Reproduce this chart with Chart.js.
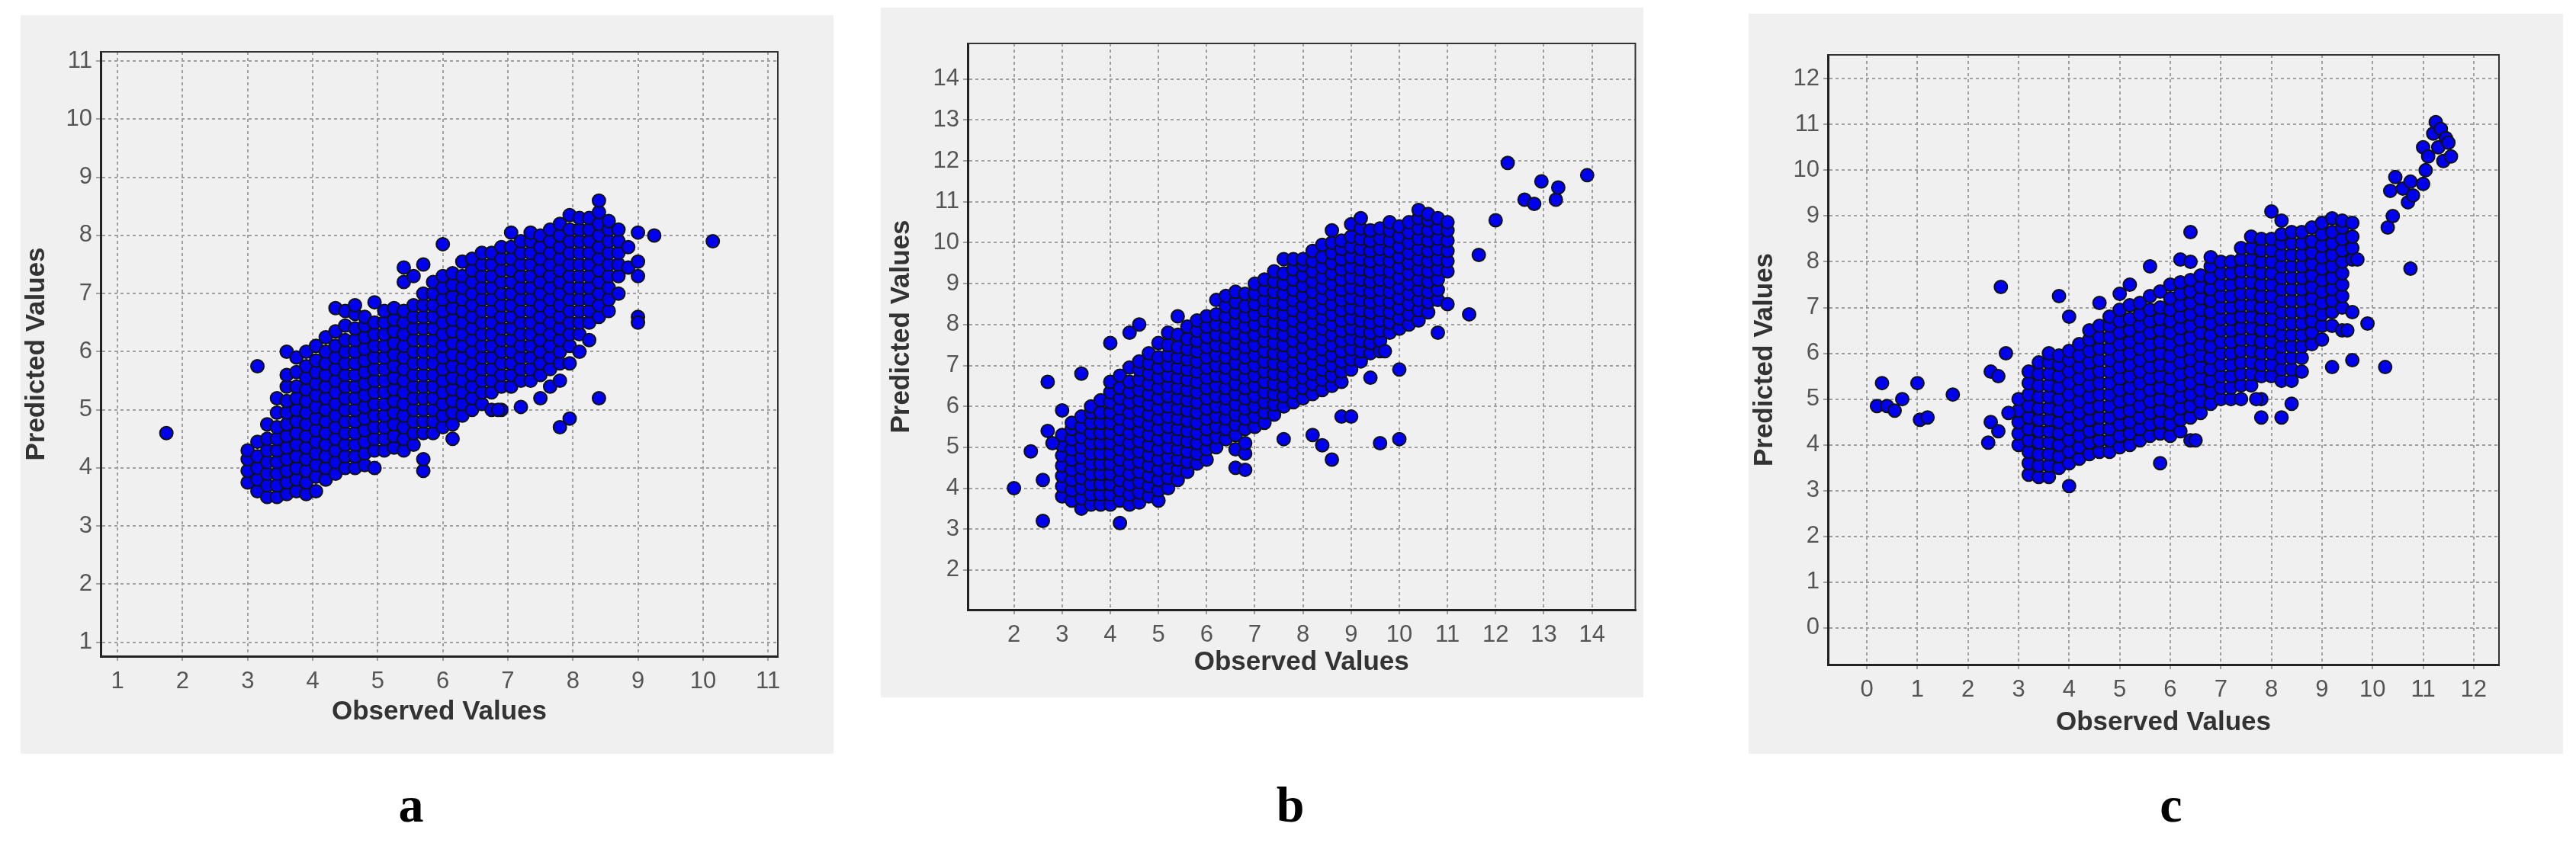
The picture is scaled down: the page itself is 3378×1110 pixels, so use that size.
<!DOCTYPE html>
<html lang="en">
<head>
<meta charset="UTF-8">
<title>Observed vs Predicted</title>
<style>
    body { margin: 0; background: #fff; width: 3378px; height: 1110px; position: relative; overflow: hidden; }
    .panel { position: absolute; background: #f0f0f0; }
    .letter { position: absolute; font-family: "Liberation Serif", "DejaVu Serif", serif; font-weight: bold; font-size: 66px; transform: translateX(-50%); color: #000; }
</style>
</head>
<body>
<div class="panel" id="pa" style="left:27px;top:20px;width:1066px;height:969px"><canvas id="ca"></canvas></div>
<div class="panel" id="pb" style="left:1155px;top:10px;width:1000px;height:905px"><canvas id="cb"></canvas></div>
<div class="panel" id="pc" style="left:2293px;top:18px;width:1068px;height:971px"><canvas id="cc"></canvas></div>
<div class="letter" style="left:539px;top:1018px">a</div>
<div class="letter" style="left:1692px;top:1018px">b</div>
<div class="letter" style="left:2847px;top:1018px">c</div>

<script src="https://cdn.jsdelivr.net/npm/chart.js"></script>
<script>
// tick labels
const ticksAX = [1, 2, 3, 4, 5, 6, 7, 8, 9, 10, 11];
const ticksAY = [1, 2, 3, 4, 5, 6, 7, 8, 9, 10, 11];
const ticksBX = [2, 3, 4, 5, 6, 7, 8, 9, 10, 11, 12, 13, 14];
const ticksBY = [2, 3, 4, 5, 6, 7, 8, 9, 10, 11, 12, 13, 14];
const ticksCX = [0, 1, 2, 3, 4, 5, 6, 7, 8, 9, 10, 11, 12];
const ticksCY = [0, 1, 2, 3, 4, 5, 6, 7, 8, 9, 10, 11, 12];

// panel a: observed value columns and the predicted values read in each column
const obsA = [3.0, 3.15, 3.3, 3.45, 3.6, 3.75, 3.9, 4.05, 4.2, 4.35, 4.5, 4.65, 4.8, 4.95, 5.1, 5.25, 5.4, 5.55, 5.7, 5.85,
    6.0, 6.15, 6.3, 6.45, 6.6, 6.75, 6.9, 7.05, 7.2, 7.35, 7.5, 7.65, 7.8, 7.95, 8.1, 8.25, 8.4, 8.55, 8.7, 8.85];
const predA = [
    "3.75 3.95 4.15 4.3",
    "3.6 3.8 4.0 4.2 4.45 5.75",
    "3.5 3.7 3.9 4.1 4.3 4.5 4.75",
    "3.5 3.7 3.9 4.1 4.3 4.5 4.7 4.95 5.2",
    "3.55 3.75 3.95 4.15 4.35 4.55 4.75 4.95 5.15 5.4 5.6 6.0",
    "3.6 3.8 4.0 4.2 4.4 4.6 4.8 5.0 5.2 5.4 5.65 5.9",
    "3.55 3.75 3.95 4.15 4.35 4.55 4.75 4.95 5.15 5.35 5.55 5.75 6.0",
    "3.6 3.85 4.05 4.25 4.45 4.65 4.85 5.05 5.25 5.45 5.65 5.85 6.1",
    "3.8 4.0 4.2 4.4 4.6 4.8 5.0 5.2 5.4 5.6 5.8 6.0 6.25",
    "3.9 4.1 4.3 4.5 4.7 4.9 5.1 5.3 5.5 5.7 5.9 6.1 6.35 6.75",
    "4.0 4.2 4.4 4.6 4.8 5.0 5.2 5.4 5.6 5.8 6.0 6.2 6.45 6.7",
    "4.0 4.2 4.4 4.6 4.8 5.0 5.2 5.4 5.6 5.8 6.0 6.2 6.4 6.65 6.8",
    "4.05 4.25 4.45 4.65 4.85 5.05 5.25 5.45 5.65 5.85 6.05 6.25 6.45 6.6",
    "4.0 4.3 4.5 4.7 4.9 5.1 5.3 5.5 5.7 5.9 6.1 6.3 6.5 6.85",
    "4.3 4.5 4.7 4.9 5.1 5.3 5.5 5.7 5.9 6.1 6.3 6.5 6.7",
    "4.35 4.55 4.75 4.95 5.15 5.35 5.55 5.75 5.95 6.15 6.35 6.55 6.75",
    "4.3 4.5 4.7 4.9 5.1 5.3 5.5 5.7 5.9 6.1 6.3 6.5 6.7 7.2 7.45",
    "4.4 4.6 4.8 5.0 5.2 5.4 5.6 5.8 6.0 6.2 6.4 6.6 6.8 7.3",
    "3.95 4.15 4.6 4.8 5.0 5.2 5.4 5.6 5.8 6.0 6.2 6.4 6.6 6.8 7.0 7.5",
    "4.6 4.8 5.0 5.2 5.4 5.6 5.8 6.0 6.2 6.4 6.6 6.8 7.0 7.2",
    "4.7 4.9 5.1 5.3 5.5 5.7 5.9 6.1 6.3 6.5 6.7 6.9 7.1 7.3 7.85",
    "4.5 4.75 4.95 5.15 5.35 5.55 5.75 5.95 6.15 6.35 6.55 6.75 6.95 7.15 7.35",
    "4.9 5.1 5.3 5.5 5.7 5.9 6.1 6.3 6.5 6.7 6.9 7.1 7.3 7.55",
    "5.0 5.2 5.4 5.6 5.8 6.0 6.2 6.4 6.6 6.8 7.0 7.2 7.4 7.6",
    "5.1 5.3 5.5 5.7 5.9 6.1 6.3 6.5 6.7 6.9 7.1 7.3 7.5 7.7",
    "5.0 5.3 5.5 5.7 5.9 6.1 6.3 6.5 6.7 6.9 7.1 7.3 7.5 7.7",
    "5.0 5.4 5.6 5.8 6.0 6.2 6.4 6.6 6.8 7.0 7.2 7.4 7.6 7.8",
    "5.4 5.6 5.8 6.0 6.2 6.4 6.6 6.8 7.0 7.2 7.4 7.6 7.8 8.05",
    "5.05 5.5 5.7 5.9 6.1 6.3 6.5 6.7 6.9 7.1 7.3 7.5 7.7 7.9",
    "5.5 5.7 5.9 6.1 6.3 6.5 6.7 6.9 7.1 7.3 7.5 7.7 7.9 8.05",
    "5.2 5.6 5.8 6.0 6.2 6.4 6.6 6.8 7.0 7.2 7.4 7.6 7.8 8.0",
    "5.4 5.7 5.9 6.1 6.3 6.5 6.7 6.9 7.1 7.3 7.5 7.7 7.9 8.1",
    "4.7 5.5 5.8 6.0 6.2 6.4 6.6 6.8 7.0 7.2 7.4 7.6 7.8 8.0 8.2",
    "4.85 5.8 6.1 6.3 6.5 6.7 6.9 7.1 7.3 7.5 7.7 7.9 8.1 8.35",
    "6.0 6.3 6.5 6.7 6.9 7.1 7.3 7.5 7.7 7.9 8.1 8.3",
    "6.2 6.5 6.7 6.9 7.1 7.3 7.5 7.7 7.9 8.1 8.3",
    "5.2 6.6 6.8 7.0 7.2 7.4 7.6 7.8 8.0 8.2 8.4 8.6",
    "6.7 6.9 7.1 7.3 7.5 7.7 7.9 8.1 8.25",
    "7.0 7.3 7.5 7.7 7.9 8.1",
    "7.45 7.8"
];
const outObsA = [1.75, 9.0, 9.25, 9.0, 9.0, 9.0, 9.0, 10.15, 6.85];
const outPredA = [4.6, 8.05, 8.0, 7.55, 7.3, 6.6, 6.5, 7.9, 5.0];

// panel b
const obsB = [3.0, 3.2, 3.4, 3.6, 3.8, 4.0, 4.2, 4.4, 4.6, 4.8, 5.0, 5.2, 5.4, 5.6, 5.8, 6.0, 6.2, 6.4, 6.6, 6.8,
    7.0, 7.2, 7.4, 7.6, 7.8, 8.0, 8.2, 8.4, 8.6, 8.8, 9.0, 9.2, 9.4, 9.6, 9.8, 10.0, 10.2, 10.4, 10.6, 10.8, 11.0];
const predB = [
    "3.8 4.05 4.3 4.55 4.8 5.05 5.3 5.9",
    "3.7 3.95 4.2 4.45 4.7 4.95 5.2 5.45 5.6",
    "3.5 3.75 4.0 4.25 4.5 4.75 5.0 5.25 5.5 5.75 6.8",
    "3.6 3.85 4.1 4.35 4.6 4.85 5.1 5.35 5.6 5.85 6.0",
    "3.6 3.85 4.1 4.35 4.6 4.85 5.1 5.35 5.6 5.85 6.15",
    "3.6 3.85 4.1 4.35 4.6 4.85 5.1 5.35 5.6 5.85 6.1 6.35 6.6 7.55",
    "3.7 3.95 4.2 4.45 4.7 4.95 5.2 5.45 5.7 5.95 6.2 6.45 6.75",
    "3.6 3.85 4.1 4.35 4.6 4.85 5.1 5.35 5.6 5.85 6.1 6.35 6.6 6.95 7.8",
    "3.65 3.9 4.15 4.4 4.65 4.9 5.15 5.4 5.65 5.9 6.15 6.4 6.65 6.9 7.1 8.0",
    "3.8 4.05 4.3 4.55 4.8 5.05 5.3 5.55 5.8 6.05 6.3 6.55 6.8 7.05 7.3",
    "3.7 3.95 4.2 4.45 4.7 4.95 5.2 5.45 5.7 5.95 6.2 6.45 6.7 6.95 7.2 7.55",
    "4.0 4.25 4.5 4.75 5.0 5.25 5.5 5.75 6.0 6.25 6.5 6.75 7.0 7.25 7.5 7.8",
    "4.2 4.45 4.7 4.95 5.2 5.45 5.7 5.95 6.2 6.45 6.7 6.95 7.2 7.45 7.75 8.2",
    "4.4 4.65 4.9 5.15 5.4 5.65 5.9 6.15 6.4 6.65 6.9 7.15 7.4 7.65 7.95",
    "4.6 4.85 5.1 5.35 5.6 5.85 6.1 6.35 6.6 6.85 7.1 7.35 7.6 7.85 8.1",
    "4.7 4.95 5.2 5.45 5.7 5.95 6.2 6.45 6.7 6.95 7.2 7.45 7.7 7.95 8.2",
    "5.0 5.25 5.5 5.75 6.0 6.25 6.5 6.75 7.0 7.25 7.5 7.75 8.0 8.25 8.6",
    "5.2 5.45 5.7 5.95 6.2 6.45 6.7 6.95 7.2 7.45 7.7 7.95 8.2 8.45 8.7",
    "4.5 4.95 5.3 5.55 5.8 6.05 6.3 6.55 6.8 7.05 7.3 7.55 7.8 8.05 8.3 8.55 8.8",
    "4.45 4.85 5.1 5.45 5.7 5.95 6.2 6.45 6.7 6.95 7.2 7.45 7.7 7.95 8.2 8.45 8.75",
    "5.5 5.75 6.0 6.25 6.5 6.75 7.0 7.25 7.5 7.75 8.0 8.25 8.5 8.75 9.0",
    "5.6 5.85 6.1 6.35 6.6 6.85 7.1 7.35 7.6 7.85 8.1 8.35 8.6 8.85 9.1",
    "5.8 6.05 6.3 6.55 6.8 7.05 7.3 7.55 7.8 8.05 8.3 8.55 8.8 9.05 9.3",
    "5.2 6.0 6.25 6.5 6.75 7.0 7.25 7.5 7.75 8.0 8.25 8.5 8.75 9.0 9.25 9.6",
    "6.1 6.35 6.6 6.85 7.1 7.35 7.6 7.85 8.1 8.35 8.6 8.85 9.1 9.35 9.6",
    "6.2 6.45 6.7 6.95 7.2 7.45 7.7 7.95 8.2 8.45 8.7 8.95 9.2 9.45 9.6",
    "5.3 6.3 6.55 6.8 7.05 7.3 7.55 7.8 8.05 8.3 8.55 8.8 9.05 9.3 9.55 9.8",
    "5.05 6.4 6.65 6.9 7.15 7.4 7.65 7.9 8.15 8.4 8.65 8.9 9.15 9.4 9.65 9.95",
    "4.7 6.5 6.75 7.0 7.25 7.5 7.75 8.0 8.25 8.5 8.75 9.0 9.25 9.5 9.75 10.0 10.3",
    "5.75 6.6 6.85 7.1 7.35 7.6 7.85 8.1 8.35 8.6 8.85 9.1 9.35 9.6 9.85 10.05",
    "5.75 6.9 7.15 7.4 7.65 7.9 8.15 8.4 8.65 8.9 9.15 9.4 9.65 9.9 10.15 10.45",
    "7.1 7.35 7.6 7.85 8.1 8.35 8.6 8.85 9.1 9.35 9.6 9.85 10.1 10.35 10.6",
    "6.7 7.3 7.55 7.8 8.05 8.3 8.55 8.8 9.05 9.3 9.55 9.8 10.05 10.3",
    "5.1 7.35 7.6 7.85 8.1 8.35 8.6 8.85 9.1 9.35 9.6 9.85 10.1 10.35",
    "7.8 8.05 8.3 8.55 8.8 9.05 9.3 9.55 9.8 10.05 10.3 10.5",
    "5.2 6.9 7.9 8.15 8.4 8.65 8.9 9.15 9.4 9.65 9.9 10.15 10.4",
    "8.0 8.25 8.5 8.75 9.0 9.25 9.5 9.75 10.0 10.25 10.5",
    "8.1 8.35 8.6 8.85 9.1 9.35 9.6 9.85 10.1 10.35 10.6 10.8",
    "8.3 8.55 8.8 9.05 9.3 9.55 9.8 10.05 10.3 10.55 10.7",
    "7.8 8.6 8.85 9.1 9.35 9.6 9.85 10.1 10.35 10.6",
    "8.5 9.3 9.55 9.8 10.05 10.3 10.5"
];
const outObsB = [2.0, 2.35, 2.6, 2.6, 2.7, 2.7, 2.8, 4.2, 12.0, 12.25, 11.65, 11.45, 12.6, 12.8, 12.95, 13.25, 13.3, 13.9, 9.7];
const outPredB = [4.0, 4.9, 3.2, 4.2, 6.6, 5.4, 5.1, 3.15, 10.55, 11.95, 9.7, 8.25, 11.05, 10.95, 11.5, 11.05, 11.35, 11.65, 7.35];

// panel c
const obsC = [3.0, 3.2, 3.4, 3.6, 3.8, 4.0, 4.2, 4.4, 4.6, 4.8, 5.0, 5.2, 5.4, 5.6, 5.8, 6.0, 6.2, 6.4, 6.6, 6.8,
    7.0, 7.2, 7.4, 7.6, 7.8, 8.0, 8.2, 8.4, 8.6, 8.8, 9.0, 9.2, 9.4, 9.6];
const predC = [
    "4.0 4.25 4.5 4.75 5.0",
    "3.35 3.6 3.85 4.1 4.35 4.6 4.85 5.1 5.35 5.6",
    "3.3 3.55 3.8 4.05 4.3 4.55 4.8 5.05 5.3 5.55 5.8",
    "3.3 3.55 3.8 4.05 4.3 4.55 4.8 5.05 5.3 5.55 5.8 6.0",
    "3.5 3.75 4.0 4.25 4.5 4.75 5.0 5.25 5.5 5.75 5.95 7.25",
    "3.1 3.6 3.85 4.1 4.35 4.6 4.85 5.1 5.35 5.6 5.85 6.05 6.8",
    "3.7 3.95 4.2 4.45 4.7 4.95 5.2 5.45 5.7 5.95 6.2",
    "3.8 4.05 4.3 4.55 4.8 5.05 5.3 5.55 5.8 6.05 6.3 6.5",
    "3.85 4.1 4.35 4.6 4.85 5.1 5.35 5.6 5.85 6.1 6.35 6.6 7.1",
    "3.85 4.1 4.35 4.6 4.85 5.1 5.35 5.6 5.85 6.1 6.35 6.6 6.8",
    "3.95 4.2 4.45 4.7 4.95 5.2 5.45 5.7 5.95 6.2 6.45 6.7 6.95 7.3",
    "4.0 4.25 4.5 4.75 5.0 5.25 5.5 5.75 6.0 6.25 6.5 6.75 7.05 7.5",
    "4.1 4.35 4.6 4.85 5.1 5.35 5.6 5.85 6.1 6.35 6.6 6.85 7.1",
    "4.2 4.45 4.7 4.95 5.2 5.45 5.7 5.95 6.2 6.45 6.7 6.95 7.25 7.9",
    "3.6 4.25 4.5 4.75 5.0 5.25 5.5 5.75 6.0 6.25 6.5 6.75 7.0 7.35",
    "4.2 4.45 4.7 4.95 5.2 5.45 5.7 5.95 6.2 6.45 6.7 6.95 7.2 7.5",
    "4.3 4.55 4.8 5.05 5.3 5.55 5.8 6.05 6.3 6.55 6.8 7.05 7.3 7.55 8.05",
    "4.1 4.6 4.85 5.1 5.35 5.6 5.85 6.1 6.35 6.6 6.85 7.1 7.35 7.6 8.0 8.65",
    "4.7 4.95 5.2 5.45 5.7 5.95 6.2 6.45 6.7 6.95 7.2 7.45 7.7",
    "4.9 5.15 5.4 5.65 5.9 6.15 6.4 6.65 6.9 7.15 7.4 7.65 7.9 8.1",
    "5.0 5.25 5.5 5.75 6.0 6.25 6.5 6.75 7.0 7.25 7.5 7.75 8.0",
    "5.0 5.25 5.5 5.75 6.0 6.25 6.5 6.75 7.0 7.25 7.5 7.75 8.0",
    "5.0 5.3 5.55 5.8 6.05 6.3 6.55 6.8 7.05 7.3 7.55 7.8 8.05 8.3",
    "5.3 5.55 5.8 6.05 6.3 6.55 6.8 7.05 7.3 7.55 7.8 8.05 8.3 8.55",
    "4.6 5.0 5.5 5.75 6.0 6.25 6.5 6.75 7.0 7.25 7.5 7.75 8.0 8.25 8.5",
    "5.5 5.75 6.0 6.25 6.5 6.75 7.0 7.25 7.5 7.75 8.0 8.25 8.5 9.1",
    "4.6 5.4 5.65 5.9 6.15 6.4 6.65 6.9 7.15 7.4 7.65 7.9 8.15 8.4 8.6 8.9",
    "4.9 5.4 5.65 5.9 6.15 6.4 6.65 6.9 7.15 7.4 7.65 7.9 8.15 8.4 8.65",
    "5.6 5.9 6.15 6.4 6.65 6.9 7.15 7.4 7.65 7.9 8.15 8.4 8.65",
    "6.2 6.45 6.7 6.95 7.2 7.45 7.7 7.95 8.2 8.45 8.75",
    "6.3 6.6 6.85 7.1 7.35 7.6 7.85 8.1 8.35 8.6 8.85",
    "5.7 6.6 6.9 7.15 7.4 7.65 7.9 8.15 8.4 8.65 8.95",
    "6.5 7.0 7.25 7.5 7.75 8.0 8.25 8.5 8.75 8.9",
    "5.85 6.9 8.05 8.3 8.55 8.85"
];
const outObsC = [0.2, 0.3, 0.4, 0.55, 0.7, 1.0, 1.05, 1.2, 1.7, 2.4, 2.45, 2.45, 2.6, 2.6, 2.65, 2.75, 2.8,
    7.7, 6.5, 9.5, 9.9, 10.25, 9.7, 10.75, 10.3, 10.35, 10.4, 10.45, 10.6, 10.7, 10.75, 10.8,
    11.0, 11.0, 11.05, 11.1, 11.2, 11.25, 11.3, 11.35, 11.4, 11.45, 11.5, 11.55];
const outPredC = [4.85, 5.35, 4.85, 4.75, 5.0, 5.35, 4.55, 4.6, 5.1, 4.05, 4.5, 5.6, 4.3, 5.5, 7.45, 6.0, 4.7,
    5.0, 4.1, 6.5, 6.65, 5.7, 8.05, 7.85, 8.75, 9.55, 9.0, 9.85, 9.6, 9.3, 9.75, 9.45,
    9.7, 10.5, 10.0, 10.3, 10.8, 11.05, 10.5, 10.9, 10.2, 10.7, 10.6, 10.3];

function toPoints(xs, cols, oxs, oys) {
    const pts = [];
    xs.forEach((x, i) => cols[i].split(' ').forEach(y => pts.push({ x: x, y: parseFloat(y) })));
    oxs.forEach((x, i) => pts.push({ x: x, y: oys[i] }));
    return pts;
}

// frame on top and right side of the plot
const framePlugin = {
    id: 'frame',
    afterDraw(chart) {
        const a = chart.chartArea, ctx = chart.ctx;
        ctx.save();
        ctx.strokeStyle = '#333';
        ctx.lineWidth = 2;
        ctx.beginPath();
        ctx.moveTo(a.left, a.top); ctx.lineTo(a.right, a.top); ctx.lineTo(a.right, a.bottom);
        ctx.stroke();
        ctx.restore();
    }
};

function makeChart(id, pts, cfg) {
    const grid = { color: '#a0a0a0', lineWidth: 2, tickLength: 6, tickColor: '#a0a0a0' };
    const font = { family: 'Liberation Sans', size: 31 };
    const titleFont = { family: 'Liberation Sans', size: 35, weight: 'bold' };
    new Chart(document.getElementById(id), {
        type: 'scatter',
        data: { datasets: [{ data: pts, backgroundColor: '#0000f0', borderColor: '#111', borderWidth: 2, pointRadius: 8.5, pointHoverRadius: 8.5 }] },
        options: {
            responsive: true, maintainAspectRatio: false, animation: false,
            layout: { padding: { top: cfg.top, right: cfg.right, left: 0, bottom: 0 } },
            plugins: { legend: { display: false }, tooltip: { enabled: false } },
            scales: {
                x: {
                    min: cfg.xmin, max: cfg.xmax,
                    afterBuildTicks: s => { s.ticks = cfg.xt.map(v => ({ value: v })); },
                    afterFit: s => { s.height = cfg.bottom; },
                    grid: grid,
                    border: { color: '#222', width: 3, dash: [4, 4] },
                    ticks: { color: '#555', padding: 9, font: font },
                    title: { display: true, text: 'Observed Values', color: '#333', padding: { top: 0, bottom: cfg.xtp }, font: titleFont }
                },
                y: {
                    min: cfg.ymin, max: cfg.ymax,
                    afterBuildTicks: s => { s.ticks = cfg.yt.map(v => ({ value: v })); },
                    afterFit: s => { s.width = cfg.left; },
                    grid: grid,
                    border: { color: '#222', width: 3, dash: [4, 4] },
                    ticks: { color: '#555', padding: 5, font: font },
                    title: { display: true, text: 'Predicted Values', color: '#333', padding: { top: cfg.ytp, bottom: 0 }, font: titleFont }
                }
            }
        },
        plugins: [framePlugin]
    });
}

makeChart('ca', toPoints(obsA, predA, outObsA, outPredA),
    { xmin: 0.74, xmax: 11.15, ymin: 0.76, ymax: 11.16, xt: ticksAX, yt: ticksAY, top: 48, right: 73, left: 105, bottom: 128, xtp: 34, ytp: 0 });
makeChart('cb', toPoints(obsB, predB, outObsB, outPredB),
    { xmin: 1.04, xmax: 14.9, ymin: 1.03, ymax: 14.87, xt: ticksBX, yt: ticksBY, top: 47, right: 10, left: 114, bottom: 115, xtp: 25, ytp: 6 });
makeChart('cc', toPoints(obsC, predC, outObsC, outPredC),
    { xmin: -0.77, xmax: 12.5, ymin: -0.8, ymax: 12.52, xt: ticksCX, yt: ticksCY, top: 54, right: 84, left: 104, bottom: 117, xtp: 20, ytp: 0 });
</script>
</body>
</html>
